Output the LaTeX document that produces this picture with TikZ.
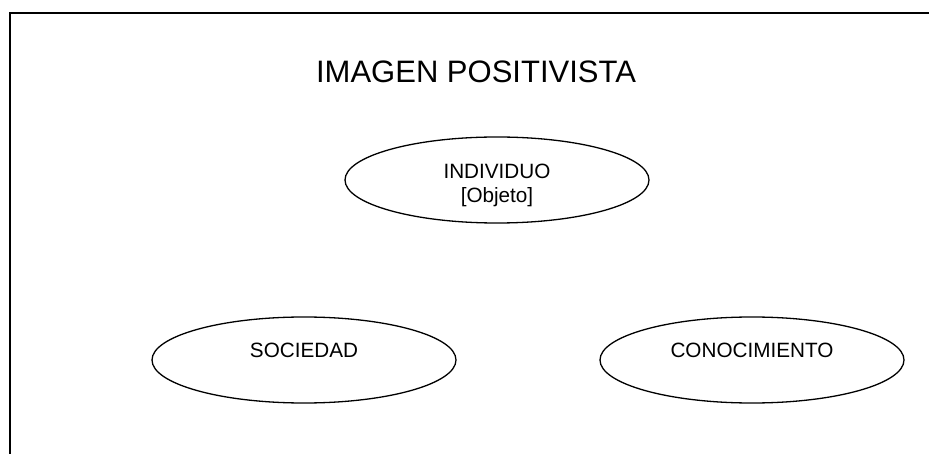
\documentclass[tikz,border=0pt]{standalone}
\usepackage{fontspec}
\setmainfont{Liberation Sans}
\usetikzlibrary{shapes.geometric}
\begin{document}
\begin{tikzpicture}[x=1pt,y=-1pt,
  oval/.style={draw=black,line width=1.3pt,ellipse,minimum width=304pt,minimum height=86pt,inner sep=0pt},
  lbl/.style={anchor=base,inner sep=0pt,font=\fontsize{20.7}{24}\selectfont},
  ttl/.style={anchor=base,inner sep=0pt,font=\fontsize{31}{36}\selectfont},
  frame/.style={draw=black,line width=2pt}]
\useasboundingbox (0,0) rectangle (929,454);
\coordinate (tl) at (10,13);
\coordinate (tr) at (929,13);
\coordinate (bl) at (10,454);
\draw[frame] (tr) -- (tl) -- (bl);
\node[ttl] (title) at (476,83) {IMAGEN POSITIVISTA};
\node[oval] (ind) at (497,180) {};
\node[lbl] (indt) at (497,179) {INDIVIDUO};
\node[lbl] (indo) at (497,203) {[Objeto]};
\node[oval] (soc) at (304,360) {};
\node[lbl] (soct) at (304,357) {SOCIEDAD};
\node[oval] (con) at (752,360) {};
\node[lbl] (cont) at (752,357) {CONOCIMIENTO};
\end{tikzpicture}
\end{document}
